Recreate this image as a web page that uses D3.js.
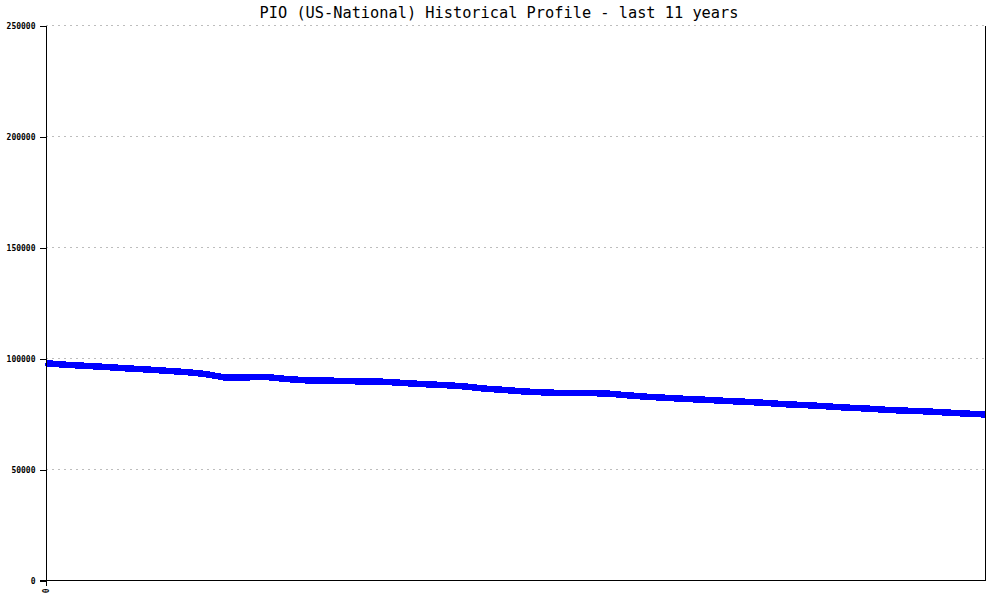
<!DOCTYPE html>
<html><head><meta charset="utf-8">
<script src="https://cdn.jsdelivr.net/npm/d3@7"></script>
<style>
body{margin:0;background:#fff;}
svg{display:block;}
</style></head>
<body>
<svg id="chart" width="1000" height="600"></svg>
<script>
const title = "PIO (US-National) Historical Profile - last 11 years";
const yTicks = [0, 50000, 100000, 150000, 200000, 250000];
const xTickLabels = ["0"];
const values = [97900, 97200, 96700, 96200, 95600, 95100, 94500, 93900, 93000, 91400,
  91500, 91700, 90800, 90200, 90100, 89800, 89700, 89500, 88900, 88400,
  88000, 87400, 86400, 85800, 85100, 84700, 84400, 84400, 84300, 83500,
  82800, 82300, 81800, 81400, 80900, 80500, 80000, 79400, 79000, 78500,
  77900, 77500, 76900, 76500, 76200, 75700, 75200, 74800];

const svg = d3.select("#chart");
const L = 45.5, R = 985.5, T = 25.5, B = 580.5;
const x = d3.scaleLinear().domain([0, values.length - 1]).range([L, R]);
const y = d3.scaleLinear().domain([0, 250000]).range([B, T]);

// grid
svg.append("g").selectAll("line").data(yTicks).join("line")
  .attr("x1", L).attr("x2", R)
  .attr("y1", d => y(d)).attr("y2", d => y(d))
  .attr("stroke", "#bdbdbd").attr("stroke-width", 1).attr("stroke-dasharray", "2,4")
  .attr("shape-rendering", "crispEdges");

// line
const line = d3.line().x((d, i) => x(i)).y(d => y(d));
svg.append("path").datum(values).attr("d", line)
  .attr("fill", "none").attr("stroke", "#0000ff").attr("stroke-width", 6.5)
  .attr("stroke-linejoin", "round").attr("shape-rendering", "crispEdges");

// axes
const yAxis = d3.axisLeft(y).tickValues(yTicks).tickSize(6).tickSizeOuter(0).tickFormat(d3.format("d"));
const gy = svg.append("g").attr("transform", `translate(${L},0)`).call(yAxis);
gy.selectAll("text").attr("font-family", "DejaVu Sans Mono").attr("font-size", 8).attr("font-weight", "bold").attr("fill", "#000").attr("x", -10);
gy.selectAll("line,path").attr("stroke", "#000").attr("shape-rendering", "crispEdges");

const xAxis = d3.axisBottom(d3.scaleLinear().domain([0, 1]).range([L, R]))
  .tickValues([0]).tickSize(5).tickSizeOuter(0).tickFormat((d, i) => xTickLabels[i]);
const gx = svg.append("g").attr("transform", `translate(0,${B})`).call(xAxis);
gx.select(".domain").attr("d", `M${L - 6},0H${R}`);
gx.selectAll("line,path").attr("stroke", "#000").attr("shape-rendering", "crispEdges");
gx.selectAll("text").attr("font-family", "DejaVu Sans Mono").attr("font-size", 8).attr("font-weight", "bold")
  .attr("fill", "#000").attr("transform", "rotate(-90)").attr("text-anchor", "end")
  .attr("x", -8).attr("y", 0).attr("dy", "0.32em");

svg.append("line").attr("x1", R).attr("x2", R).attr("y1", T).attr("y2", B)
  .attr("stroke", "#000").attr("shape-rendering", "crispEdges");

svg.append("text").attr("x", 499).attr("y", 18).attr("text-anchor", "middle")
  .attr("font-family", "DejaVu Sans Mono").attr("font-size", 15.3).attr("fill", "#000").text(title);
</script>
</body></html>
